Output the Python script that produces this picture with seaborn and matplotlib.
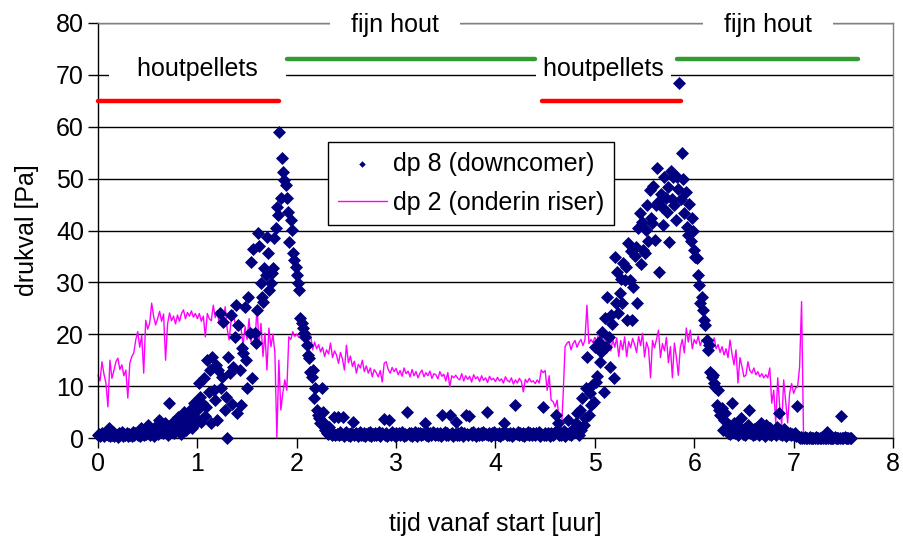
import numpy as np
import pandas as pd
import seaborn as sns
import matplotlib.pyplot as plt

# dp 8 (downcomer) [Pa], een waarde per 0.0125 uur vanaf de start
dp8_stap = 0.0125
dp8 = [
    0.5, 0.8, 0.3, 1.0, 0.6, 0.4, 0.9, 0.7, 0.5, 1.9, 0.3, 0.6, 1.1, 0.4, 0.8, 0.5,
    0.2, 0.9, 0.6, 1.2, 0.4, 0.7, 0.5, 1.0, 0.3, 0.8, 0.6, 0.4, 1.1, 0.5, 0.9, 0.7,
    0.6, 1.3, 0.4, 1.9, 0.8, 0.5, 1.4, 0.7, 2.5, 1.0, 0.6, 1.6, 0.9, 0.4, 2.1, 1.2,
    0.8, 3.5, 1.5, 2.2, 0.9, 1.7, 2.8, 1.1, 0.6, 6.7, 2.0, 1.4, 3.0, 0.9, 2.4, 1.6,
    4.1, 1.8, 3.2, 0.7, 2.6, 5.0, 3.1, 1.5, 4.4, 2.2, 5.4, 3.6, 1.9, 6.8, 4.0, 2.9,
    5.4, 10.6, 8.0, 3.0, 6.7, 11.6, 4.2, 6.0, 15.0, 8.8, 13.1, 2.9, 15.7, 9.2, 7.3, 14.1,
    3.5, 13.1, 24.1, 9.6, 11.8, 22.4, 5.4, 8.0, 0.0, 15.6, 12.5, 23.7, 6.5, 13.7, 19.5, 25.6,
    4.8, 21.8, 13.1, 6.4, 17.3, 16.4, 25.3, 15.0, 9.6, 27.2, 20.2, 33.9, 11.6, 36.4, 20.2, 18.3,
    24.7, 39.5, 37.0, 29.9, 27.2, 26.3, 32.8, 31.4, 38.7, 35.6, 28.5, 29.9, 31.8, 32.8, 38.5, 40.5,
    44.6, 43.0, 59.0, 46.2, 54.0, 51.3, 49.7, 48.7, 46.2, 43.6, 37.8, 42.0, 40.1, 35.6, 34.3, 33.0,
    31.4, 29.9, 28.5, 23.1, 22.1, 21.2, 20.2, 19.5, 17.9, 16.0, 15.4, 12.8, 11.8, 13.1, 7.7, 9.6,
    5.4, 4.4, 3.9, 2.9, 9.6, 5.1, 2.9, 1.5, 1.0, 0.7, 2.2, 1.2, 0.5, 0.9, 4.1, 0.6,
    0.8, 4.1, 0.5, 1.1, 0.7, 4.1, 0.4, 0.9, 1.2, 0.6, 0.8, 0.3, 1.0, 3.1, 0.5, 0.7,
    0.9, 0.4, 0.8, 1.1, 0.5, 0.6, 1.0, 0.3, 0.7, 0.9, 0.5, 1.2, 0.4, 0.8, 0.6, 1.0,
    0.5, 0.8, 1.1, 0.4, 0.7, 0.9, 3.7, 0.6, 1.0, 0.3, 3.5, 0.8, 0.5, 1.1, 0.7, 0.4,
    0.9, 0.6, 1.0, 0.5, 0.8, 1.2, 0.4, 0.7, 0.6, 5.1, 1.0, 0.5, 0.9, 0.3, 0.8, 1.1,
    0.6, 0.4, 0.9, 1.0, 0.5, 0.8, 0.7, 2.9, 0.6, 1.1, 0.4, 0.9, 0.5, 0.8, 1.2, 0.6,
    0.7, 1.0, 0.5, 0.9, 0.4, 4.4, 0.8, 1.1, 0.6, 0.9, 0.5, 4.4, 0.7, 1.0, 0.4, 0.8,
    3.1, 0.6, 0.9, 0.5, 1.2, 0.7, 0.4, 1.0, 4.4, 0.8, 0.6, 4.2, 0.9, 0.5, 1.1, 0.7,
    0.4, 0.8, 1.0, 0.6, 0.9, 0.5, 1.2, 0.7, 0.8, 5.1, 0.6, 1.0, 0.4, 0.9, 0.7, 1.1,
    0.5, 0.8, 0.6, 1.0, 0.4, 0.9, 0.7, 2.9, 1.1, 0.5, 0.8, 0.6, 1.0, 0.4, 0.9, 0.7,
    6.4, 0.8, 1.1, 0.5, 0.9, 0.6, 1.0, 0.4, 0.8, 0.7, 1.2, 0.5, 0.9, 0.6, 1.0, 0.8,
    0.5, 0.9, 0.7, 1.1, 0.4, 0.8, 6.0, 0.6, 1.0, 0.5, 0.9, 0.7, 0.4, 1.0, 0.6, 0.8,
    1.2, 4.4, 2.9, 0.5, 1.0, 0.6, 0.8, 1.4, 0.4, 0.9, 3.5, 0.7, 1.2, 0.5, 1.2, 2.0,
    1.2, 2.9, 4.8, 0.6, 5.4, 1.5, 7.7, 2.6, 3.8, 9.6, 15.7, 4.5, 8.7, 6.4, 10.2, 7.0,
    17.6, 10.8, 12.0, 18.6, 14.7, 16.6, 20.5, 8.9, 23.1, 17.6, 27.2, 19.5, 13.7, 23.7, 22.0, 11.6,
    34.9, 26.0, 32.0, 24.1, 27.9, 30.6, 26.0, 33.7, 30.4, 33.0, 22.7, 37.5, 30.4, 36.0, 22.7, 29.2,
    35.0, 36.9, 26.0, 40.5, 43.3, 33.5, 41.7, 36.2, 35.6, 40.1, 44.9, 38.0, 47.8, 42.5, 41.4, 48.6,
    38.2, 44.9, 52.0, 45.5, 32.0, 47.0, 44.6, 41.0, 50.3, 46.2, 43.5, 48.4, 37.8, 51.5, 46.0, 50.3,
    44.9, 42.0, 50.3, 48.0, 68.5, 46.0, 54.9, 50.0, 43.3, 47.5, 40.7, 39.1, 45.2, 38.0, 42.5, 40.0,
    36.2, 34.9, 34.7, 31.4, 29.5, 26.0, 27.2, 24.7, 22.7, 21.8, 18.9, 17.0, 18.0, 12.8, 11.8, 12.1,
    10.6, 9.9, 6.4, 9.2, 5.4, 4.4, 5.8, 1.5, 3.5, 4.8, 2.0, 1.0, 2.5, 0.8, 6.7, 1.6,
    2.9, 0.9, 1.5, 0.6, 2.2, 1.1, 3.9, 0.8, 1.8, 0.5, 1.2, 2.6, 5.4, 0.9, 1.4, 0.6,
    1.8, 0.7, 2.0, 1.1, 0.5, 1.6, 2.9, 0.8, 1.3, 0.4, 2.5, 1.0, 0.7, 1.9, 0.5, 1.2,
    0.9, 1.5, 0.6, 2.1, 4.8, 0.8, 1.3, 0.5, 1.7, 0.9, 0.4, 1.2, 0.7, 1.0, 0.5, 0.8,
    0.6, 0.9, 0.4, 6.2, 0.2, 0.0, 0.1, 0.0, 0.0, 0.1, 0.0, 0.0, 0.0, 0.1, 0.0, 0.0,
    0.0, 0.0, 0.1, 0.0, 0.0, 0.0, 0.0, 0.1, 0.0, 0.0, 0.0, 1.2, 0.0, 0.0, 0.0, 0.0,
    0.0, 0.1, 0.0, 0.0, 0.0, 0.0, 4.3, 0.0, 0.0, 0.1, 0.0, 0.0, 0.0, 0.0, 0.0,
]

# dp 2 (onderin riser) [Pa], een waarde per 0.02 uur vanaf de start
dp2_stap = 0.02
dp2 = [
    12.1, 11.0, 14.7, 12.3, 10.6, 6.0, 15.0, 11.5, 13.0, 14.7,
    15.4, 13.2, 14.1, 12.0, 13.1, 7.7, 14.4, 15.7, 16.4, 18.9,
    20.5, 17.5, 19.8, 12.5, 22.7, 21.0, 22.1, 26.0, 23.4, 21.8,
    23.0, 24.4, 22.5, 23.9, 15.0, 22.0, 24.1, 22.6, 23.5, 22.0,
    23.7, 22.5, 24.0, 24.7, 23.0, 24.2, 23.5, 24.5, 23.3, 24.0,
    23.0, 24.0, 22.5, 23.5, 19.5, 24.0, 23.0, 22.6, 25.6, 23.2,
    24.5, 22.0, 23.6, 22.5, 25.3, 21.0, 18.9, 22.8, 24.6, 22.0,
    20.8, 22.5, 21.0, 17.9, 21.5, 19.0, 23.0, 18.5, 21.0, 18.3,
    25.3, 18.3, 22.1, 15.7, 20.2, 13.1, 21.2, 17.6, 20.0, 16.4,
    0.0, 15.0, 5.4, 8.7, 11.2, 9.2, 19.5, 19.0, 20.5, 19.6,
    20.0, 19.4, 19.8, 20.2, 19.0, 19.5, 18.9, 19.8, 17.0, 18.5,
    17.2, 18.0, 16.6, 17.5, 15.7, 17.0, 16.2, 18.3, 15.5, 16.8,
    16.0, 14.4, 16.5, 15.2, 13.1, 17.9, 14.5, 15.8, 13.8, 14.8,
    12.5, 14.2, 13.5, 15.0, 12.8, 13.9, 12.5, 13.5, 11.8, 13.2,
    12.6, 11.8, 13.0, 10.8, 14.4, 14.7, 13.2, 12.5, 13.6, 12.8,
    13.4, 12.2, 13.0, 11.9, 13.5, 12.4, 12.9, 11.8, 13.2, 12.0,
    12.8, 11.6, 12.5, 13.1, 11.8, 12.6, 12.0, 12.9, 11.5, 12.4,
    12.2, 11.4, 12.8, 11.9, 12.3, 11.0, 12.6, 9.9, 12.0, 11.6,
    12.1, 11.5, 11.2, 12.4, 11.0, 12.0, 11.3, 11.9, 10.8, 12.2,
    11.4, 11.8, 10.9, 12.0, 11.1, 11.6, 10.7, 11.9, 11.2, 11.5,
    10.9, 11.7, 11.0, 11.4, 10.6, 11.8, 11.1, 10.8, 11.6, 10.4,
    11.2, 10.6, 11.5, 10.9, 8.9, 11.3, 10.7, 11.5, 10.8, 11.0,
    10.5, 11.2, 10.6, 13.1, 12.6, 13.0, 9.2, 12.0, 7.3, 7.0,
    6.0, 7.3, 3.5, 0.2, 8.0, 17.6, 18.3, 18.6, 17.0, 18.2,
    18.8, 17.5, 18.4, 19.0, 17.8, 18.9, 25.6, 18.2, 19.0, 18.4,
    19.4, 18.6, 20.5, 19.0, 18.0, 19.8, 17.2, 19.5, 16.8, 19.0,
    17.5, 19.3, 15.7, 18.8, 17.0, 19.5, 15.7, 18.6, 17.4, 19.2,
    18.0, 16.5, 19.6, 17.8, 20.2, 15.6, 18.5, 17.2, 11.6, 18.8,
    17.4, 19.0, 20.8, 15.5, 18.2, 16.8, 19.4, 14.5, 17.6, 11.6,
    18.3, 15.6, 12.1, 17.5, 19.0, 16.4, 21.2, 18.5, 20.8, 17.2,
    19.0, 18.2, 19.6, 17.8, 18.9, 18.4, 17.6, 18.9, 17.0, 18.0,
    19.3, 17.2, 18.0, 16.5, 17.6, 16.0, 17.2, 15.5, 18.9, 16.2,
    14.1, 17.0, 10.6, 15.5, 13.8, 11.8, 12.1, 14.7, 13.0, 12.5,
    13.5, 12.2, 12.8, 11.8, 12.4, 11.6, 12.2, 11.6, 13.5, 6.7,
    9.2, 2.9, 11.6, 6.0, 2.5, 11.2, 7.0, 2.9, 8.7, 10.5,
    8.6, 9.6, 9.9, 13.7, 26.3, 0.0,
]

# brandstofperiodes (begin, eind) in uur en hoogte van de balken
houtpellets_periodes = [(0.0, 1.82), (4.47, 5.87)]
fijn_hout_periodes = [(1.90, 4.40), (5.83, 7.65)]
houtpellets_niveau = 65
fijn_hout_niveau = 73

df8 = pd.DataFrame({"tijd": np.arange(len(dp8)) * dp8_stap, "dp": dp8})
df2 = pd.DataFrame({"tijd": np.arange(len(dp2)) * dp2_stap, "dp": dp2})

sns.set_theme(style="ticks")
plt.rcParams["font.family"] = ["Liberation Sans", "DejaVu Sans"]
plt.rcParams["text.color"] = "black"
plt.rcParams["axes.labelcolor"] = "black"

W, H = 904, 537
fig = plt.figure(figsize=(W / 100, H / 100), dpi=100)
ax = fig.add_axes([98 / W, 1 - 438 / H, 795 / W, 415 / H])

sns.lineplot(data=df2, x="tijd", y="dp", color="#FF00FF", lw=1.0,
             estimator=None, sort=False, label="dp 2 (onderin riser)",
             ax=ax, zorder=2, clip_on=False)
sns.scatterplot(data=df8, x="tijd", y="dp", marker="D", color="#000080",
                s=44, linewidth=0, label="dp 8 (downcomer)", ax=ax,
                zorder=3, clip_on=False)

ax.set_xlim(0, 8)
ax.set_ylim(0, 80)
ax.set_xticks(range(0, 9))
ax.set_yticks(range(0, 81, 10))
ax.yaxis.grid(True, color="black", lw=1.0)
ax.set_axisbelow(True)
ax.tick_params(direction="out", length=7, width=1, color="black",
               labelsize=18, labelcolor="black", pad=3)
for s in ["left", "bottom"]:
    ax.spines[s].set_color("black")
    ax.spines[s].set_linewidth(1.0)
for s in ["top", "right"]:
    ax.spines[s].set_color("#808080")
    ax.spines[s].set_linewidth(1.0)

ax.set_xlabel("tijd vanaf start [uur]", fontsize=18, labelpad=26)
ax.set_ylabel("drukval [Pa]", fontsize=18, labelpad=12)

# brandstofbalken en labels
tekst_box = dict(facecolor="white", edgecolor="none", pad=0)
for a, b in houtpellets_periodes:
    ax.plot([a, b], [houtpellets_niveau] * 2, color="#FF0000", lw=3.2,
            solid_capstyle="round", zorder=5, clip_on=False)
for a, b in fijn_hout_periodes:
    ax.plot([a, b], [fijn_hout_niveau] * 2, color="#339933", lw=3.2,
            solid_capstyle="round", zorder=5, clip_on=False)

ax.text(1.0, 69.8, "    houtpellets    ", ha="center", va="baseline",
        fontsize=18, bbox=tekst_box, zorder=4)
ax.text(5.09, 69.8, " houtpellets ", ha="center", va="baseline",
        fontsize=18, bbox=tekst_box, zorder=4)
ax.text(2.99, 78.2, "   fijn hout   ", ha="center", va="baseline",
        fontsize=18, bbox=tekst_box, zorder=4)
ax.text(6.74, 78.2, "   fijn hout   ", ha="center", va="baseline",
        fontsize=18, bbox=tekst_box, zorder=4)

handles, labels = ax.get_legend_handles_labels()
order = [labels.index("dp 8 (downcomer)"), labels.index("dp 2 (onderin riser)")]
leg = ax.legend([handles[i] for i in order], [labels[i] for i in order],
                loc="upper left", bbox_to_anchor=(328 / W, 1 - 142 / H),
                bbox_transform=fig.transFigure, fontsize=18, frameon=True,
                fancybox=False, edgecolor="black", framealpha=1,
                borderpad=0.4, labelspacing=0.6, handlelength=1.95,
                handletextpad=0.25, borderaxespad=0, markerscale=0.5)
leg.get_frame().set_linewidth(1.0)
leg.set_zorder(6)

fig.savefig("out.png", dpi=100)
